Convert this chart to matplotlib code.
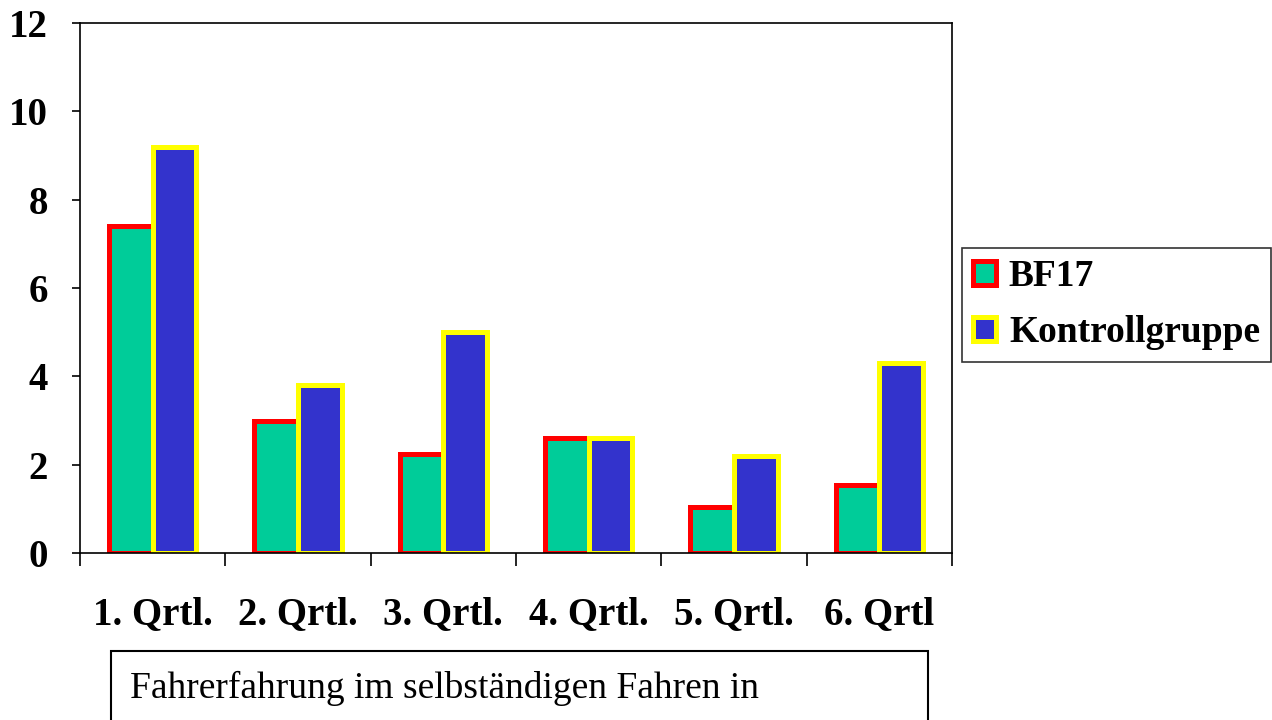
import numpy as np
import matplotlib.pyplot as plt
from matplotlib.patches import Rectangle

categories = ['1. Qrtl.', '2. Qrtl.', '3. Qrtl.', '4. Qrtl.', '5. Qrtl.', '6. Qrtl']
bf17 = [7.4, 3.0, 2.25, 2.6, 1.05, 1.55]
kontroll = [9.2, 3.8, 5.0, 2.6, 2.2, 4.3]
yticks = [0, 2, 4, 6, 8, 10, 12]

plt.rcParams['font.family'] = ['Liberation Serif', 'DejaVu Serif']

fig = plt.figure(figsize=(12.72, 7.2), dpi=100)
ax = fig.add_axes([80 / 1272, 1 - 553 / 720, 872 / 1272, 530 / 720])

x = np.arange(len(categories))
w = 0.3
ax.bar(x - w / 2, bf17, w, color='#00CC99', edgecolor='#FF0000', linewidth=3.6,
       label='BF17', zorder=2)
ax.bar(x + w / 2, kontroll, w, color='#3333CC', edgecolor='#FFFF00', linewidth=3.6,
       label='Kontrollgruppe', zorder=3)

ax.set_xlim(-0.5, len(categories) - 0.5)
ax.set_ylim(0, 12)
ax.set_yticks(yticks)
ax.set_yticklabels([str(v) for v in yticks], fontsize=28, fontweight='bold')
ax.set_xticks(x)
ax.set_xticklabels(categories, fontsize=28, fontweight='bold')
ax.set_xticks(np.arange(len(categories) + 1) - 0.5, minor=True)
ax.tick_params(axis='x', which='major', length=0, pad=31)
ax.tick_params(axis='x', which='minor', length=9, width=1.2, direction='out')
ax.tick_params(axis='y', length=6, width=1.2, direction='out', pad=17)
for s in ax.spines.values():
    s.set_linewidth(1.2)
    s.set_zorder(4)

leg = ax.legend(loc='upper left', bbox_to_anchor=(962 / 1272, 1 - 248 / 720),
                bbox_transform=fig.transFigure, prop={'size': 27, 'weight': 'bold'},
                frameon=True, fancybox=False, edgecolor='black', borderaxespad=0,
                handlelength=0.6, handleheight=0.6, handletextpad=0.35,
                labelspacing=0.56, borderpad=0.3)
leg.get_frame().set_linewidth(1.2)

fig.add_artist(Rectangle((111 / 1272, 1 - 760 / 720), 817 / 1272, 109 / 720,
                         transform=fig.transFigure, fill=False, edgecolor='black',
                         linewidth=1.5))
fig.text(130 / 1272, 1 - 688 / 720, 'Fahrerfahrung im selbständigen Fahren in',
         fontsize=27, va='center', ha='left')

fig.savefig('out.png', dpi=100)
